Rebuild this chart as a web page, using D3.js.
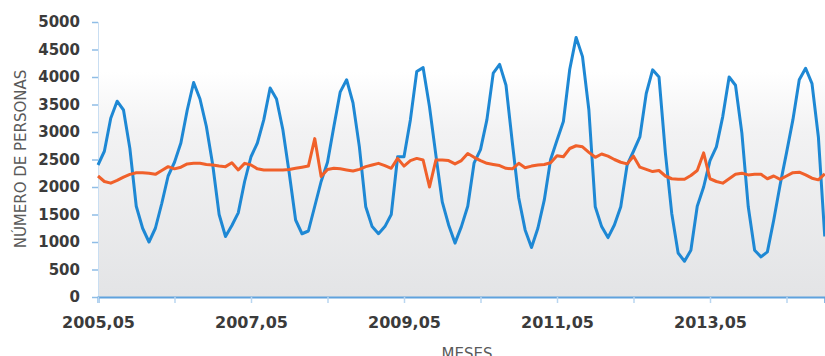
<!DOCTYPE html>
<html>
<head>
<meta charset="utf-8">
<script src="https://cdn.jsdelivr.net/npm/d3@7"></script>
<style>
    body { margin: 0; background: #fff; }
    svg { display: block; }
</style>
</head>
<body>
<div id="chart"></div>
<script>
// first month of the series (2005,05)
const startYear = 2005;
const startMonth = 5;

// blue series, one value per month
const serieAzul = [
    2400, 2650, 3250, 3560, 3400, 2700, 1650, 1250, 1000, 1250, 1700, 2200,
    2450, 2800, 3400, 3900, 3600, 3100, 2400, 1500, 1100, 1300, 1530, 2100,
    2550, 2800, 3220, 3800, 3600, 3040, 2250, 1400, 1150, 1200, 1650, 2100,
    2450, 3100, 3730, 3950, 3530, 2730, 1640, 1280, 1150, 1280, 1500, 2550,
    2550, 3220, 4100, 4170, 3460, 2580, 1730, 1310, 980, 1280, 1650, 2440,
    2680, 3220, 4070, 4230, 3850, 2800, 1800, 1220, 900, 1250, 1760, 2500,
    2850, 3190, 4140, 4720, 4370, 3400, 1640, 1280, 1080, 1310, 1640, 2400,
    2650, 2910, 3700, 4130, 4000, 2620, 1520, 800, 650, 850, 1650, 2000,
    2480, 2730, 3280, 4000, 3850, 2980, 1640, 850, 730, 820, 1400, 2040,
    2620, 3220, 3950, 4160, 3880, 2910, 1100
];

// orange series, one value per month
const serieNaranja = [
    2200, 2100, 2070, 2120, 2180, 2230, 2260, 2260, 2250, 2230, 2300, 2370,
    2330, 2360, 2420, 2430, 2430, 2410, 2400, 2380, 2370, 2440, 2310, 2430,
    2400, 2330, 2310, 2310, 2310, 2310, 2320, 2340, 2360, 2380, 2880, 2190,
    2320, 2340, 2330, 2310, 2290, 2320, 2370, 2400, 2430, 2390, 2340, 2520,
    2380, 2480, 2520, 2490, 2000, 2490, 2490, 2480, 2420, 2480, 2610, 2540,
    2480, 2430, 2410, 2390, 2340, 2330, 2430, 2350, 2380, 2400, 2410, 2440,
    2570, 2550, 2700, 2750, 2730, 2630, 2540, 2600, 2560, 2500, 2450, 2420,
    2560, 2360, 2320, 2280, 2300, 2200, 2150, 2140, 2140, 2210, 2300, 2620,
    2150, 2100, 2070, 2150, 2230, 2250, 2220, 2230, 2230, 2150, 2200, 2140,
    2200, 2260, 2270, 2220, 2160, 2130, 2240
];

const yTicks = [0, 500, 1000, 1500, 2000, 2500, 3000, 3500, 4000, 4500, 5000];
const yTitle = "NÚMERO DE PERSONAS";
const xTitle = "MESES";

const width = 825, height = 356;
const margin = { top: 22, right: 0, bottom: 59, left: 98 };
const plotBottom = height - margin.bottom;

// month labels like "2005,05"
const meses = serieAzul.map((d, i) => {
    const m = startMonth - 1 + i;
    const year = startYear + Math.floor(m / 12);
    return `${year},${String(m % 12 + 1).padStart(2, "0")}`;
});

const svg = d3.select("#chart")
    .append("svg")
    .attr("width", width)
    .attr("height", height);

const x = d3.scaleLinear()
    .domain([0, serieAzul.length - 1])
    .range([margin.left, width - 0.25]);

const y = d3.scaleLinear()
    .domain([0, 5000])
    .range([plotBottom, margin.top]);

// plot background: white on top fading to light grey
const grad = svg.append("defs").append("linearGradient")
    .attr("id", "bg")
    .attr("x1", 0).attr("y1", 0).attr("x2", 0).attr("y2", 1);
grad.append("stop").attr("offset", "0%").attr("stop-color", "#ffffff");
grad.append("stop").attr("offset", "18%").attr("stop-color", "#ffffff");
grad.append("stop").attr("offset", "40%").attr("stop-color", "#f2f2f3");
grad.append("stop").attr("offset", "100%").attr("stop-color", "#e3e4e6");

svg.append("rect")
    .attr("x", margin.left)
    .attr("y", y(5000))
    .attr("width", width - margin.left)
    .attr("height", y(0) - y(5000))
    .attr("fill", "url(#bg)");

// Y axis
const yAxis = svg.append("g")
    .attr("transform", `translate(${margin.left},0)`)
    .call(d3.axisLeft(y).tickValues(yTicks).tickSize(6).tickPadding(12).tickFormat(d3.format("d")));
yAxis.select(".domain").attr("stroke", "#c9def2").attr("stroke-width", 1);
yAxis.selectAll(".tick line").attr("stroke", "#8fbde6").attr("stroke-width", 1.5);
yAxis.selectAll("text")
    .attr("fill", "#3b3b3b")
    .style("font-family", "'DejaVu Sans', sans-serif")
    .style("font-weight", "bold")
    .style("font-size", "15px");

// X axis: tick every year, label every two years
const xTickVals = d3.range(0, serieAzul.length, 12);
const xAxis = svg.append("g")
    .attr("transform", `translate(0,${plotBottom})`)
    .call(d3.axisBottom(x).tickValues(xTickVals).tickSize(6).tickPadding(14)
        .tickFormat(i => i % 24 === 0 ? meses[i] : ""));
xAxis.select(".domain").attr("stroke", "#5fa2dd").attr("stroke-width", 2);
xAxis.selectAll(".tick line").attr("stroke", "#b9d6f0").attr("stroke-width", 1.5);
xAxis.selectAll("text")
    .attr("fill", "#3b3b3b")
    .style("font-family", "'DejaVu Sans', sans-serif")
    .style("font-weight", "bold")
    .style("font-size", "16px");

// lines
const line = d3.line()
    .x((d, i) => x(i))
    .y(d => y(d));

svg.append("path")
    .datum(serieAzul)
    .attr("fill", "none")
    .attr("stroke", "#1e88d4")
    .attr("stroke-width", 3)
    .attr("stroke-linejoin", "round")
    .attr("d", line);

svg.append("path")
    .datum(serieNaranja)
    .attr("fill", "none")
    .attr("stroke", "#f0602a")
    .attr("stroke-width", 3)
    .attr("stroke-linejoin", "round")
    .attr("d", line);

// axis titles
svg.append("text")
    .attr("transform", `translate(26,159) rotate(-90)`)
    .attr("text-anchor", "middle")
    .attr("fill", "#5a5a5a")
    .style("font-family", "'DejaVu Sans', sans-serif")
    .style("font-size", "15px")
    .text(yTitle);

svg.append("text")
    .attr("x", 467)
    .attr("y", 359)
    .attr("text-anchor", "middle")
    .attr("fill", "#5a5a5a")
    .style("font-family", "'DejaVu Sans', sans-serif")
    .style("font-size", "15px")
    .text(xTitle);
</script>
</body>
</html>
